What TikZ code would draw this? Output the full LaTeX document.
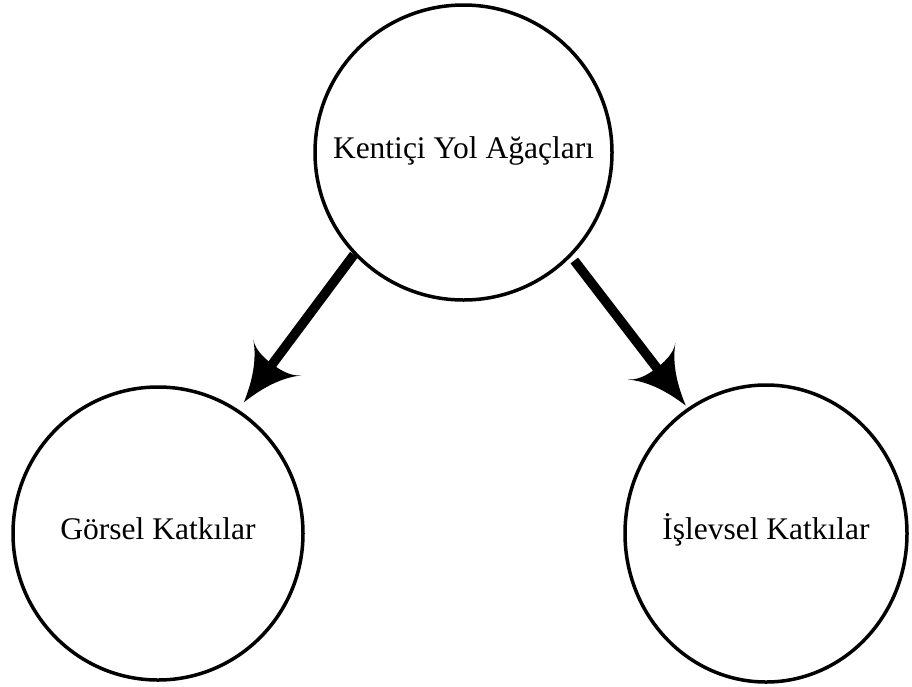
\documentclass[tikz,border=0pt]{standalone}
\usepackage{fontspec}
\setmainfont{Liberation Serif}
\usetikzlibrary{arrows.meta,shapes.geometric}
\pgfdeclarearrow{
  name = Flare,
  parameters = {\the\pgfarrowlength,\the\pgfarrowwidth},
  setup code = {
    \pgfarrowssettipend{0pt}
    \pgfarrowssetlineend{-0.7\pgfarrowlength}
    \pgfarrowssetvisualbackend{-0.85\pgfarrowlength}
    \pgfarrowssetbackend{-\pgfarrowlength}
    \pgfarrowsupperhullpoint{-\pgfarrowlength}{0.5\pgfarrowwidth}
    \pgfarrowsupperhullpoint{0pt}{0pt}
    \pgfarrowssavethe\pgfarrowlength
    \pgfarrowssavethe\pgfarrowwidth
  },
  drawing code = {
    \pgfpathmoveto{\pgfpointorigin}
    \pgfpathcurveto{\pgfpoint{-0.4\pgfarrowlength}{0.1\pgfarrowwidth}}{\pgfpoint{-0.75\pgfarrowlength}{0.25\pgfarrowwidth}}{\pgfpoint{-\pgfarrowlength}{0.5\pgfarrowwidth}}
    \pgfpathcurveto{\pgfpoint{-0.85\pgfarrowlength}{0.35\pgfarrowwidth}}{\pgfpoint{-0.85\pgfarrowlength}{0.1\pgfarrowwidth}}{\pgfpoint{-0.85\pgfarrowlength}{0pt}}
    \pgfpathcurveto{\pgfpoint{-0.85\pgfarrowlength}{-0.1\pgfarrowwidth}}{\pgfpoint{-0.85\pgfarrowlength}{-0.35\pgfarrowwidth}}{\pgfpoint{-\pgfarrowlength}{-0.5\pgfarrowwidth}}
    \pgfpathcurveto{\pgfpoint{-0.75\pgfarrowlength}{-0.25\pgfarrowwidth}}{\pgfpoint{-0.4\pgfarrowlength}{-0.1\pgfarrowwidth}}{\pgfpointorigin}
    \pgfpathclose
    \pgfusepathqfill
  },
  defaults = {length=56pt, width=59pt}
}
\tikzset{
  bubble/.style={draw=black, line width=3.5pt, ellipse, inner sep=0pt,
    font=\fontsize{31.5}{36}\selectfont, text height=20pt, text depth=9pt},
  link/.style={line width=9.5pt, -{Flare[length=56pt,width=60pt]}}
}
\begin{document}
\begin{tikzpicture}[x=1pt,y=-1pt]
\fill[white] (0,0) rectangle (912,686);
\useasboundingbox (0,0) rectangle (912,686);
\node[bubble, minimum width=297pt, minimum height=295pt] (kent) at (463.5,152.5) {\makebox[0pt][c]{Kentiçi Yol Ağaçları}};
\node[bubble, minimum width=290pt, minimum height=293pt] (gorsel) at (158,533.5) {\makebox[0pt][c]{Görsel Katkılar}};
\node[bubble, minimum width=282pt, minimum height=297pt] (islevsel) at (766,533.5) {\makebox[0pt][c]{İşlevsel Katkılar}};
\draw[link, shorten >=9pt] (kent.223) -- (gorsel.57);
\draw[link, shorten <=5pt, shorten >=3pt] (kent.316.6) -- (islevsel.122.4);
\end{tikzpicture}
\end{document}
